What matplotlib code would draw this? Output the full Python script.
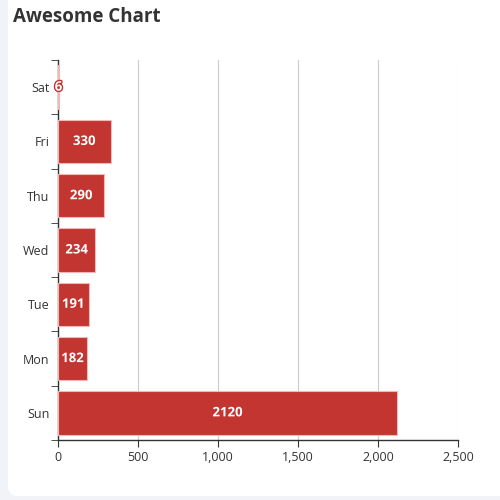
import matplotlib
matplotlib.use("Agg")
import matplotlib.pyplot as plt
import matplotlib.patheffects as pe
from matplotlib.patches import FancyBboxPatch
from matplotlib.ticker import FuncFormatter

days = ['Sun', 'Mon', 'Tue', 'Wed', 'Thu', 'Fri', 'Sat']
counts = [2120, 182, 191, 234, 290, 330, 6]
xticks = [0, 500, 1000, 1500, 2000, 2500]

plt.rcParams['font.family'] = ['Open Sans', 'DejaVu Sans']

fig = plt.figure(figsize=(5, 5), dpi=100, facecolor='#f2f3f8')
# white card behind everything
card = FancyBboxPatch((0.016, 0.008), 1.2, 1.2, boxstyle="round,pad=0,rounding_size=0.02",
                      transform=fig.transFigure, facecolor='white', edgecolor='none', zorder=-10)
fig.patches.append(card)

ax = fig.add_axes([0.116, 0.12, 0.8, 0.76])
ax.set_facecolor('none')

bars = ax.barh(range(len(days)), counts, height=0.8, color='#c23531',
               edgecolor='#f3b8b6', linewidth=0.8, zorder=3)

for i, v in enumerate(counts):
    t = ax.text(v / 2, i, str(v), ha='center', va='center', color='white',
                fontsize=9.5, fontweight='bold', zorder=4)
    t.set_path_effects([pe.withStroke(linewidth=2, foreground='#c23531')])

ax.set_xlim(0, 2500)
ax.set_ylim(-0.5, len(days) - 0.5)
ax.set_xticks(xticks)
ax.xaxis.set_major_formatter(FuncFormatter(lambda x, p: f'{int(x):,}'))
ax.set_yticks(range(len(days)))
ax.set_yticklabels(days)
ax.set_yticks([i - 0.5 for i in range(len(days) + 1)], minor=True)

ax.grid(axis='x', color='#cccccc', linewidth=0.8, zorder=0)
for s in ['top', 'right']:
    ax.spines[s].set_visible(False)
for s in ['left', 'bottom']:
    ax.spines[s].set_color('#333333')
    ax.spines[s].set_linewidth(1)

ax.tick_params(axis='y', which='major', length=0, pad=6, labelsize=9, labelcolor='#333333')
ax.tick_params(axis='y', which='minor', length=5, color='#333333')
ax.tick_params(axis='x', length=5, color='#333333', labelsize=9, labelcolor='#333333', pad=3)

fig.text(0.026, 0.986, 'Awesome Chart', fontsize=13.5, fontweight='bold', color='#333333',
         ha='left', va='top')

fig.savefig('out.png', dpi=100, facecolor=fig.get_facecolor())
